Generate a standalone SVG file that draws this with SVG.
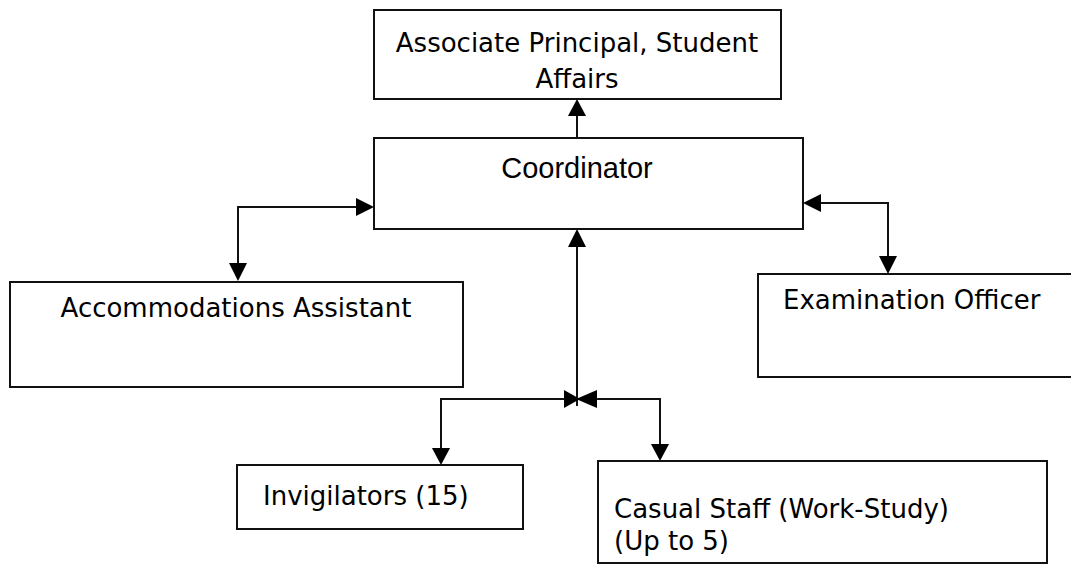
<svg xmlns="http://www.w3.org/2000/svg" width="1071" height="567" viewBox="0 0 1071 567">
<style>
.box{fill:#fff;stroke:#111;stroke-width:2}
.t{font-family:"DejaVu Sans","Verdana",sans-serif;font-size:26px;fill:#000}
.ta{font-family:"Liberation Sans",Arial,sans-serif;font-size:29px;fill:#000}
.c{fill:none;stroke:#111;stroke-width:2}
.ah{fill:#000}
</style>
<rect width="1071" height="567" fill="#fff"/>
<g id="associate-principal">
<rect class="box" x="374" y="10" width="407" height="89"/>
<text class="t" x="577" y="52" text-anchor="middle">Associate Principal, Student</text>
<text class="t" x="577" y="88" text-anchor="middle">Affairs</text>
</g>
<g id="coordinator">
<rect class="box" x="374" y="138" width="429" height="91"/>
<text class="ta" x="577" y="178" text-anchor="middle">Coordinator</text>
</g>
<g id="accommodations-assistant">
<rect class="box" x="10" y="282" width="453" height="105"/>
<text class="t" x="236" y="317" text-anchor="middle">Accommodations Assistant</text>
</g>
<g id="examination-officer">
<rect class="box" x="758" y="274" width="330" height="103"/>
<text class="t" x="783" y="309">Examination Officer</text>
</g>
<g id="invigilators">
<rect class="box" x="237" y="465" width="286" height="64"/>
<text class="t" x="263" y="505">Invigilators (15)</text>
</g>
<g id="casual-staff">
<rect class="box" x="598" y="461" width="449" height="102"/>
<text class="t" x="614" y="518">Casual Staff (Work-Study)</text>
<text class="t" x="614" y="550">(Up to 5)</text>
</g>
<g id="connectors">
<path class="c" d="M577 138 V114"/>
<polygon class="ah" points="577,99 568,116 586,116"/>
<path class="c" d="M360 207 H238 V264"/>
<polygon class="ah" points="374,207 356,198 356,216"/>
<polygon class="ah" points="238,281 229,263 247,263"/>
<path class="c" d="M818 203 H888 V258"/>
<polygon class="ah" points="803,203 821,194 821,212"/>
<polygon class="ah" points="888,274 879,256 897,256"/>
<path class="c" d="M577 246 V406"/>
<polygon class="ah" points="577,229 568,247 586,247"/>
<path class="c" d="M566 399 H441 V450"/>
<path class="c" d="M590 399 H660 V446"/>
<polygon class="ah" points="580,399 564,390 564,408"/>
<polygon class="ah" points="576,399 597,390 597,408"/>
<polygon class="ah" points="441,465 432,448 450,448"/>
<polygon class="ah" points="660,461 651,444 669,444"/>
</g>
</svg>
